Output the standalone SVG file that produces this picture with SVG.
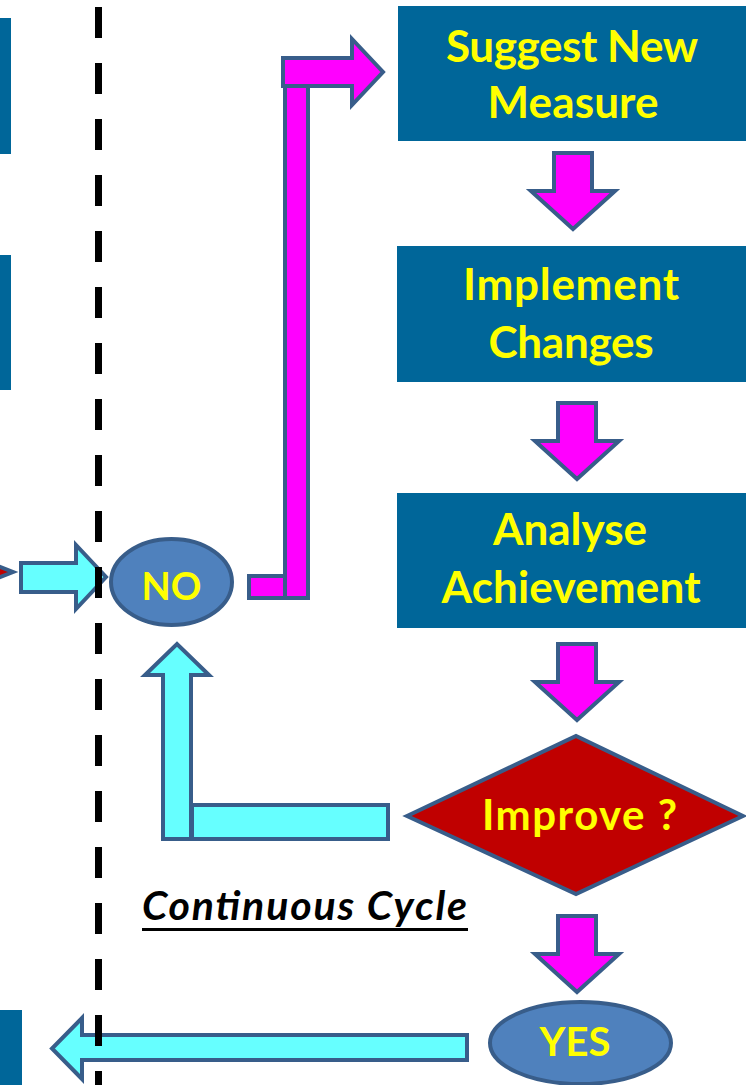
<svg xmlns="http://www.w3.org/2000/svg" xmlns:xlink="http://www.w3.org/1999/xlink" width="746" height="1085" viewBox="0 0 746 1085">
  <style>
    .box { fill: #006699; }
    .lbl { font-family: Lato, "Open Sans", "Liberation Sans", sans-serif; font-weight: 700; fill: #FFFF00; text-anchor: middle; }
    .pink { fill: #FF00FF; stroke: #385D8A; stroke-width: 4; stroke-linejoin: miter; }
    .cyan { fill: #66FFFF; stroke: #385D8A; stroke-width: 4; stroke-linejoin: miter; }
    .oval { fill: #4F81BD; stroke: #385D8A; stroke-width: 4; }
    .note { font-family: Lato, "Open Sans", "Liberation Sans", sans-serif; font-weight: 700; font-style: italic; fill: #000000; }
  </style>
  <defs>
    <!-- block arrow pointing down, origin at top centre of the shaft -->
    <path id="downArrow" d="M-19,0 H19 V38 H42 L0,76 L-42,38 H-19 Z"/>
  </defs>

  <rect width="746" height="1085" fill="#FFFFFF"/>

  <!-- blocks cut off at the left edge -->
  <g id="left-blocks">
    <rect class="box" x="-10" y="18" width="21" height="136"/>
    <rect class="box" x="-10" y="255" width="21" height="135"/>
    <rect class="box" x="-10" y="1010" width="32" height="80"/>
    <path d="M-60,543 L13,572 L-60,601 Z" fill="#C00000" stroke="#385D8A" stroke-width="4"/>
  </g>

  <g id="node-suggest">
    <rect class="box" x="398" y="6" width="350" height="135"/>
    <text class="lbl" x="572" y="62" font-size="44" textLength="252">Suggest New</text>
    <text class="lbl" x="573" y="118" font-size="44" textLength="171">Measure</text>
  </g>

  <g id="node-implement">
    <rect class="box" x="397" y="246" width="351" height="136"/>
    <text class="lbl" x="571" y="300" font-size="44" textLength="216">Implement</text>
    <text class="lbl" x="571" y="358" font-size="44" textLength="165">Changes</text>
  </g>

  <g id="node-analyse">
    <rect class="box" x="397" y="493" width="351" height="135"/>
    <text class="lbl" x="570" y="545" font-size="44" textLength="154">Analyse</text>
    <text class="lbl" x="571" y="603" font-size="44" textLength="259">Achievement</text>
  </g>

  <g id="node-improve">
    <path d="M407,816 L576,736 L743,816 L576,894 Z" fill="#C00000" stroke="#385D8A" stroke-width="4" stroke-linejoin="miter"/>
    <text class="lbl" x="579.5" y="830" font-size="42" textLength="195">Improve ?</text>
  </g>

  <g id="node-no">
    <ellipse class="oval" cx="171.5" cy="582" rx="60.5" ry="43"/>
    <text class="lbl" x="171.5" y="600" font-size="38">NO</text>
  </g>

  <g id="node-yes">
    <ellipse class="oval" cx="580.5" cy="1043" rx="90.5" ry="41"/>
    <text class="lbl" x="575" y="1056" font-size="40">YES</text>
  </g>

  <g id="caption">
    <text class="note" x="142" y="920" font-size="41" textLength="325">Continuous Cycle</text>
    <rect x="142" y="928" width="326" height="3" fill="#000000"/>
  </g>

  <g id="connectors">
    <!-- downward flow between the steps -->
    <use xlink:href="#downArrow" class="pink" x="573" y="153"/>
    <use xlink:href="#downArrow" class="pink" x="577" y="403"/>
    <use xlink:href="#downArrow" class="pink" x="577" y="644"/>
    <use xlink:href="#downArrow" class="pink" x="577" y="916"/>

    <!-- NO back up to Suggest New Measure -->
    <rect class="pink" x="249" y="576" width="40" height="22"/>
    <rect class="pink" x="285" y="86" width="23" height="512"/>
    <path class="pink" d="M283,58 H352 V39 L383,72 L352,105 V86 H283 Z"/>

    <!-- Improve? back to NO -->
    <path class="cyan" d="M163,839 V675 H145 L177,644 L209,675 H191 V839 Z"/>
    <rect class="cyan" x="192" y="805" width="196" height="34"/>

    <!-- incoming arrow to NO -->
    <path class="cyan" d="M21,563 H76 V545 L106,577 L76,609 V592 H21 Z"/>

    <!-- YES out to the left -->
    <path class="cyan" d="M467,1035 V1060 H82 V1079 L52,1048.5 L82,1018 V1035 Z"/>
  </g>

  <!-- dashed divider -->
  <g id="divider">
    <line x1="98.5" y1="7" x2="98.5" y2="1085" stroke="#000000" stroke-width="7" stroke-dasharray="31 25"/>
  </g>
</svg>
